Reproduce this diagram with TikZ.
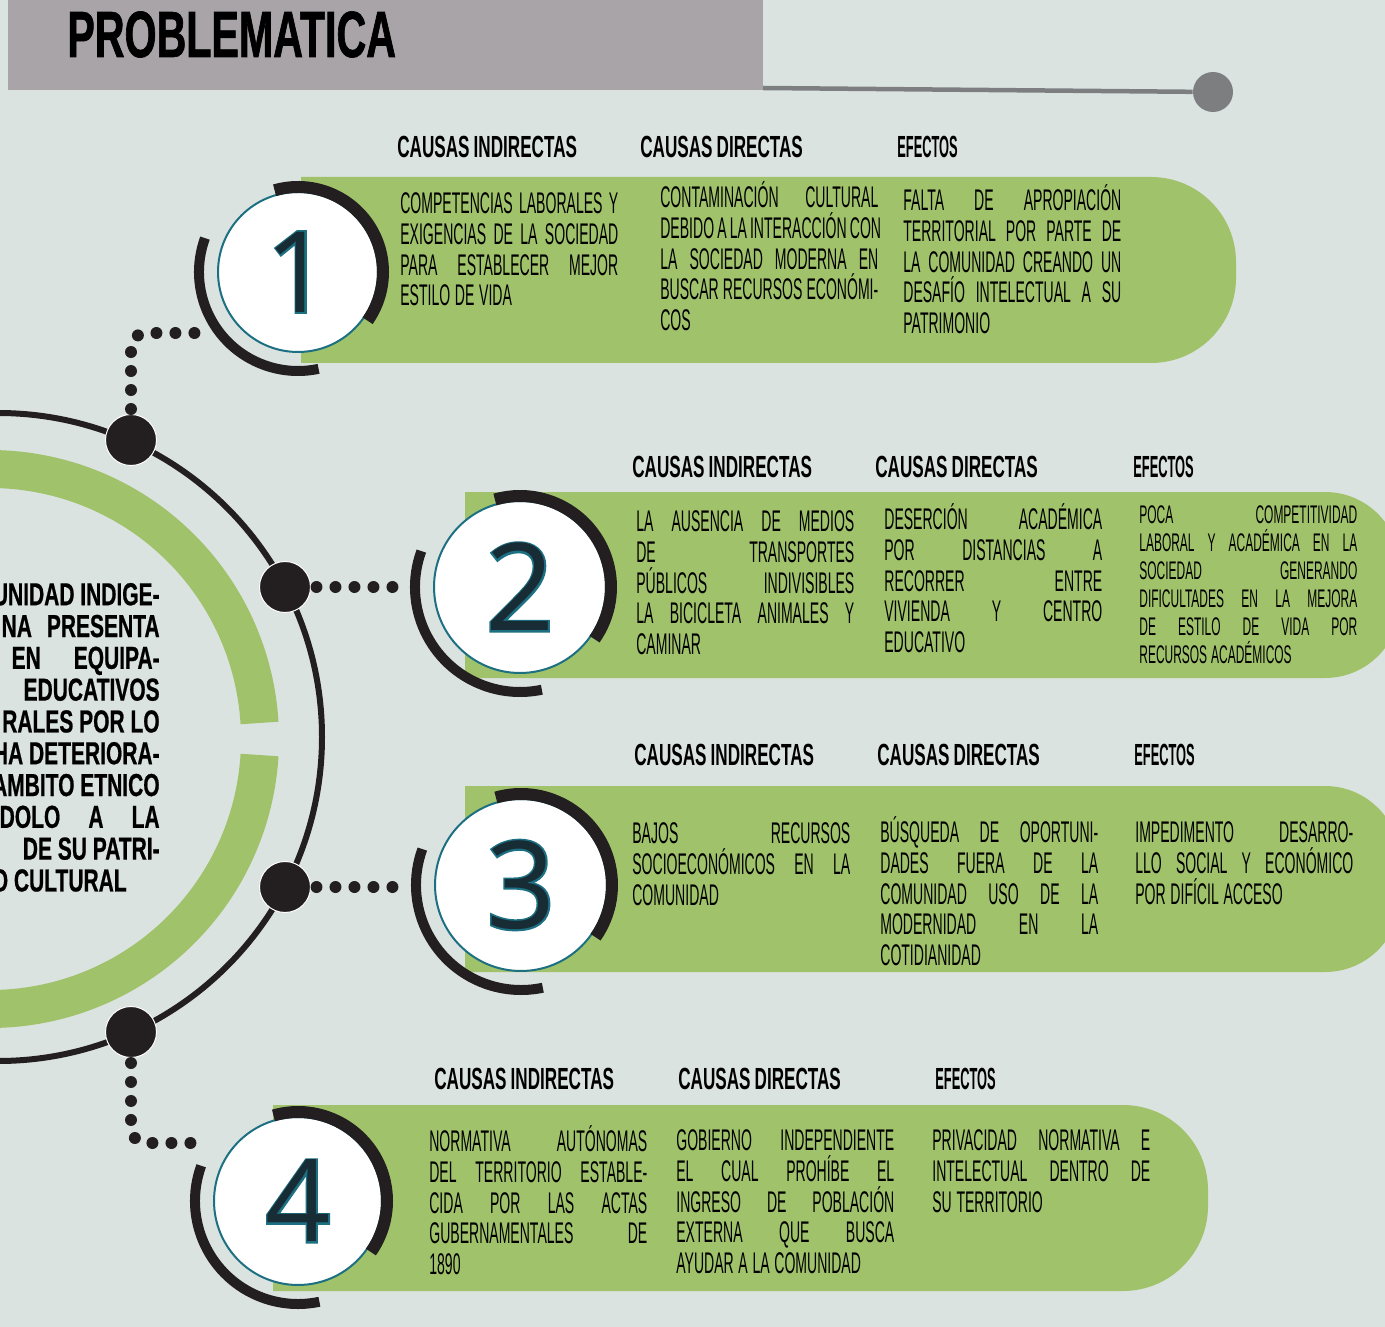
\documentclass[tikz,border=0pt]{standalone}
\usepackage{fontspec}
\usepackage{tikz}

\newfontfamily\titlefont{Liberation Sans}[FakeStretch=0.63, FakeBold=1]
\newfontfamily\headfont{Liberation Sans}[FakeStretch=0.56, WordSpace=0.85]
\newfontfamily\effont{Liberation Sans}[FakeStretch=0.42]
\newfontfamily\bodyfont{Liberation Sans}[FakeStretch=0.47, WordSpace=1.2]
\newfontfamily\sidefont{Liberation Sans}[FakeStretch=0.66, FakeBold=0.6]
\newfontfamily\numfont{Open Sans}
\newfontfamily\numedge{Open Sans}[FakeBold=3]

\definecolor{fondo}{RGB}{219,227,224}
\definecolor{barra}{RGB}{168,164,167}
\definecolor{gris}{RGB}{125,126,128}
\definecolor{verde}{RGB}{160,194,107}
\definecolor{negro}{RGB}{35,31,32}
\definecolor{azul}{RGB}{28,112,130}
\definecolor{cifra}{RGB}{24,44,54}

% one justified line, a fixed first-line height, a digit with teal edge
\newcommand{\jl}[1]{\makebox[4.36cm][s]{#1}\\}
\newcommand{\fst}{\spaceskip=0pt\xspaceskip=0pt\rule{0pt}{17pt}}
\newcommand{\cifra}[1]{\makebox[0pt]{\textcolor{azul}{\numedge #1}}\makebox[0pt]{#1}}

\begin{document}
\begin{tikzpicture}[x=0.02cm, y=0.02cm,
  numcircle/.style={circle, fill=white, draw=azul, line width=0.04cm, inner sep=0pt, text=cifra, font=\numfont\fontsize{64}{64}\selectfont},
  bigdot/.style={circle, fill=negro, draw=white, line width=0.02cm, minimum size=1.02cm, inner sep=0pt},
  head/.style={anchor=base west, inner sep=0pt, text=black, font=\headfont\bfseries\fontsize{17.4}{17.4}\selectfont},
  efhead/.style={head, font=\effont\bfseries\fontsize{17.4}{17.4}\selectfont},
  body/.style={anchor=north west, inner sep=0pt, text width=4.36cm, align=left, text=black, font=\bodyfont\fontsize{17}{17.6}\selectfont},
  dotline/.style={negro, line width=0.24cm, line cap=round, dash pattern=on 0pt off 0.38cm}]

\fill[fondo] (0,0) rectangle (1385,-1327);
\useasboundingbox (0,0) rectangle (1385,-1327);
\clip (0,0) rectangle (1385,-1327);

% title bar
\fill[barra] (8,0) rectangle (763,-90);
\node[anchor=base west, inner sep=0pt, font=\titlefont\bfseries\fontsize{37.2}{37.2}\selectfont] (titulo) at (67,-57) {PROBLEMATICA};
\node[circle, fill=gris, minimum size=0.8cm, inner sep=0pt] (fin) at (1213,-92) {};
\draw[gris, line width=0.09cm] (763,-88) -- (fin);

% central circle
\draw[negro, line width=0.12cm] (-2,-737) circle[radius=324];
\draw[verde, line width=0.76cm] (-10,-739) ++(3.4:270) arc[start angle=3.4, end angle=100, radius=270];
\draw[verde, line width=0.76cm] (-10,-739) ++(-3.4:270) arc[start angle=-3.4, end angle=-100, radius=270];

\node[anchor=north east, inner sep=0pt, align=right, font=\sidefont\bfseries\fontsize{18.1}{18.1}\selectfont] (problema) at (160,-575)
  {\rule{0pt}{17pt}UNIDAD INDIGE-\\ \makebox[3.16cm][s]{NA PRESENTA}\\ \makebox[2.96cm][s]{EN EQUIPA-}\\ EDUCATIVOS\\ RALES POR LO\\ HA DETERIORA-\\ AMBITO ETNICO\\ \makebox[3.2cm][s]{DOLO A LA}\\ DE SU PATRI-\\ O CULTURAL\hspace*{0.66cm}};

% green bands
\fill[verde] (301,-177) -- (1151,-177) arc[start angle=90, end angle=0, radius=85] -- (1236,-278) arc[start angle=0, end angle=-90, radius=85] -- (301,-363) -- cycle;
\fill[verde] (465,-492) -- (1325,-492) arc[start angle=90, end angle=0, radius=75] -- (1400,-603) arc[start angle=0, end angle=-90, radius=75] -- (465,-678) -- cycle;
\fill[verde] (465,-786) -- (1325,-786) arc[start angle=90, end angle=0, radius=75] -- (1400,-897) arc[start angle=0, end angle=-90, radius=75] -- (465,-972) -- cycle;
\fill[verde] (273,-1105) -- (1123,-1105) arc[start angle=90, end angle=0, radius=85] -- (1208,-1206) arc[start angle=0, end angle=-90, radius=85] -- (273,-1291) -- cycle;

% numbered circles
\node[numcircle, minimum size=3.2cm] (n1) at (298,-272) {\cifra{1}};
\draw[negro, line width=0.24cm] (n1.center) ++(106:85) arc[start angle=106, end angle=-35, radius=85];
\draw[negro, line width=0.2cm] (n1.center) ++(160:99) arc[start angle=160, end angle=282, radius=99];

\node[numcircle, minimum size=3.44cm, font=\numfont\fontsize{69}{69}\selectfont] (n2) at (520,-587) {\cifra{2}};
\draw[negro, line width=0.24cm] (n2.center) ++(106:91) arc[start angle=106, end angle=-35, radius=91];
\draw[negro, line width=0.2cm] (n2.center) ++(160:105) arc[start angle=160, end angle=282, radius=105];

\node[numcircle, minimum size=3.44cm, font=\numfont\fontsize{69}{69}\selectfont] (n3) at (521,-885) {\cifra{3}};
\draw[negro, line width=0.24cm] (n3.center) ++(106:91) arc[start angle=106, end angle=-35, radius=91];
\draw[negro, line width=0.2cm] (n3.center) ++(160:105) arc[start angle=160, end angle=282, radius=105];

\node[numcircle, minimum size=3.36cm, font=\numfont\fontsize{65}{65}\selectfont] (n4) at (298,-1201) {\cifra{4}};
\draw[negro, line width=0.24cm] (n4.center) ++(106:89) arc[start angle=106, end angle=-35, radius=89];
\draw[negro, line width=0.2cm] (n4.center) ++(160:103) arc[start angle=160, end angle=282, radius=103];

% dots on the circle and dotted links
\node[bigdot] (d1) at (131,-440) {};
\node[bigdot] (d2) at (285,-587) {};
\node[bigdot] (d3) at (285,-887) {};
\node[bigdot] (d4) at (131,-1032) {};
\coordinate (e1) at (203,-333);
\coordinate (e4) at (198,-1143);
\draw[dotline, rounded corners=0.3cm, shorten <=0.1cm] (d1) |- (e1);
\draw[dotline, shorten <=0.11cm, shorten >=0.7cm] (d2) -- (d2 -| n2.west);
\draw[dotline, shorten <=0.11cm, shorten >=0.7cm] (d3) -- (d3 -| n3.west);
\draw[dotline, rounded corners=0.3cm, shorten <=0.1cm] (d4) |- (e4);

% row 1
\node[head] (h1a) at (397,-158) {CAUSAS INDIRECTAS};
\node[head] (h1b) at (640,-158) {CAUSAS DIRECTAS};
\node[efhead] (h1c) at (897,-158) {EFECTOS};
\node[body] (t1a) at (400,-183) {\fst\jl{COMPETENCIAS LABORALES Y}\jl{EXIGENCIAS DE LA SOCIEDAD}\jl{PARA ESTABLECER MEJOR}ESTILO DE VIDA};
\node[body] (t1b) at (660,-177) {\fst\jl{CONTAMINACIÓN CULTURAL}\jl{DEBIDO A LA INTERACCIÓN CON}\jl{LA SOCIEDAD MODERNA EN}\jl{BUSCAR RECURSOS ECONÓMI-}COS};
\node[body] (t1c) at (903,-180) {\fst\jl{FALTA DE APROPIACIÓN}\jl{TERRITORIAL POR PARTE DE}\jl{LA COMUNIDAD CREANDO UN}\jl{DESAFÍO INTELECTUAL A SU}PATRIMONIO};

% row 2
\node[head] (h2a) at (632,-477) {CAUSAS INDIRECTAS};
\node[head] (h2b) at (875,-477) {CAUSAS DIRECTAS};
\node[efhead] (h2c) at (1133,-477) {EFECTOS};
\node[body] (t2a) at (636,-501) {\fst\jl{LA AUSENCIA DE MEDIOS}\jl{DE TRANSPORTES}\jl{PÚBLICOS INDIVISIBLES}\jl{LA BICICLETA ANIMALES Y}CAMINAR};
\node[body] (t2b) at (884,-499) {\fst\jl{DESERCIÓN ACADÉMICA}\jl{POR DISTANCIAS A}\jl{RECORRER ENTRE}\jl{VIVIENDA Y CENTRO}EDUCATIVO};
\node[body, font=\bodyfont\fontsize{14.5}{16}\selectfont] (t2c) at (1139,-493) {\fst\jl{POCA COMPETITIVIDAD}\jl{LABORAL Y ACADÉMICA EN LA}\jl{SOCIEDAD GENERANDO}\jl{DIFICULTADES EN LA MEJORA}\jl{DE ESTILO DE VIDA POR}RECURSOS ACADÉMICOS};

% row 3
\node[head] (h3a) at (634,-765) {CAUSAS INDIRECTAS};
\node[head] (h3b) at (877,-765) {CAUSAS DIRECTAS};
\node[efhead] (h3c) at (1134,-765) {EFECTOS};
\node[body] (t3a) at (632,-813) {\fst\jl{BAJOS RECURSOS}\jl{SOCIOECONÓMICOS EN LA}COMUNIDAD};
\node[body] (t3b) at (880,-812) {\fst\jl{BÚSQUEDA DE OPORTUNI-}\jl{DADES FUERA DE LA}\jl{COMUNIDAD USO DE LA}\jl{MODERNIDAD EN LA}COTIDIANIDAD};
\node[body] (t3c) at (1135,-812) {\fst\jl{IMPEDIMENTO DESARRO-}\jl{LLO SOCIAL Y ECONÓMICO}POR DIFÍCIL ACCESO};

% row 4
\node[head] (h4a) at (434,-1089) {CAUSAS INDIRECTAS};
\node[head] (h4b) at (678,-1089) {CAUSAS DIRECTAS};
\node[efhead] (h4c) at (935,-1089) {EFECTOS};
\node[body] (t4a) at (429,-1121) {\fst\jl{NORMATIVA AUTÓNOMAS}\jl{DEL TERRITORIO ESTABLE-}\jl{CIDA POR LAS ACTAS}\jl{GUBERNAMENTALES DE}1890};
\node[body] (t4b) at (676,-1120) {\fst\jl{GOBIERNO INDEPENDIENTE}\jl{EL CUAL PROHÍBE EL}\jl{INGRESO DE POBLACIÓN}\jl{EXTERNA QUE BUSCA}AYUDAR A LA COMUNIDAD};
\node[body] (t4c) at (932,-1120) {\fst\jl{PRIVACIDAD NORMATIVA E}\jl{INTELECTUAL DENTRO DE}SU TERRITORIO};
\end{tikzpicture}
\end{document}
